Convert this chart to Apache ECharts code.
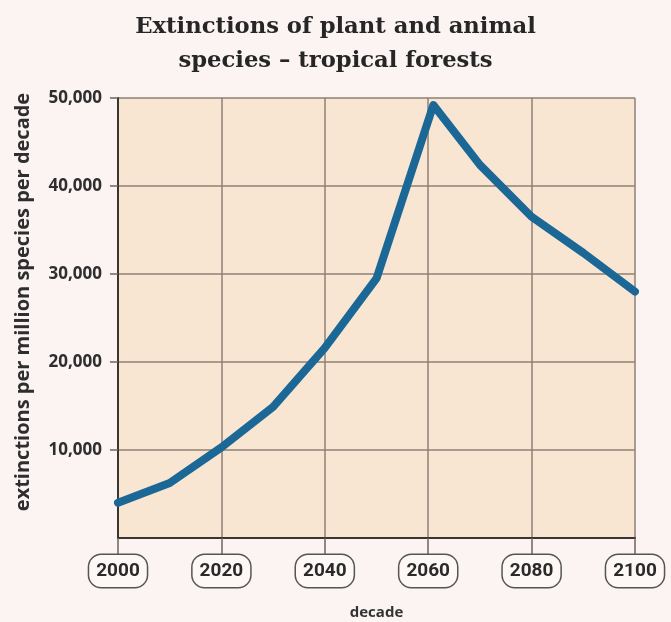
<!DOCTYPE html>
<html>
<head>
<meta charset="utf-8">
<script src="https://cdn.jsdelivr.net/npm/echarts@6/dist/echarts.min.js"></script>
<style>
  html, body { margin: 0; padding: 0; background: #fcf3f3; overflow: hidden; }
  #chart { width: 671px; height: 622px; }
</style>
</head>
<body>
<div id="chart"></div>
<script>
// Extinction rate per decade, tropical forests
const years = [2000, 2010, 2020, 2030, 2040, 2050, 2061, 2070, 2080, 2090, 2100];
const extinctions = [4000, 6250, 10300, 14900, 21600, 29500, 49200, 42400, 36500, 32400, 28000];
const yTicks = [0, 10000, 20000, 30000, 40000, 50000];
const xTicks = [2000, 2020, 2040, 2060, 2080, 2100];

const titleText = 'Extinctions of plant and animal\nspecies \u2013 tropical forests';
const yName = 'extinctions per million species per decade';
const xName = 'decade';

const chart = echarts.init(document.getElementById('chart'), null, { renderer: 'canvas' });

chart.setOption({
  backgroundColor: '#fcf3f3',
  animation: false,
  title: {
    text: titleText,
    left: 'center',
    top: 5,
    textStyle: {
      fontFamily: 'DejaVu Serif',
      fontWeight: 'bold',
      fontSize: 22.7,
      lineHeight: 34,
      color: '#262626'
    }
  },
  grid: {
    left: 118, right: 36, top: 98, bottom: 84,
    outerBoundsMode: 'none',
    containLabel: false,
    show: true,
    backgroundColor: '#f9e6d2',
    borderWidth: 0
  },
  xAxis: {
    type: 'value',
    min: xTicks[0],
    max: xTicks[xTicks.length - 1],
    interval: 20,
    name: xName,
    nameLocation: 'middle',
    nameGap: 67,
    nameTextStyle: { fontFamily: 'Open Sans', fontWeight: 'bold', fontSize: 15, color: '#333' },
    axisLine: { lineStyle: { color: '#3a3530', width: 2 } },
    axisTick: { show: true, length: 16, lineStyle: { color: '#6f655c', width: 1.5 } },
    splitLine: { show: true, lineStyle: { color: '#8c8076', width: 1.5 } },
    axisLabel: {
      margin: 17,
      formatter: v => String(v),
      fontFamily: 'Roboto',
      fontWeight: 'bold',
      fontSize: 19,
      color: '#2a2a2a',
      borderColor: '#555',
      borderWidth: 1.5,
      borderRadius: 12,
      padding: [7, 7, 6, 7],
      backgroundColor: '#fdf7f6'
    }
  },
  yAxis: {
    type: 'value',
    min: yTicks[0],
    max: yTicks[yTicks.length - 1],
    interval: 10000,
    axisLine: { show: true, lineStyle: { color: '#3a3530', width: 2 } },
    axisTick: {
      show: true, length: 8,
      customValues: yTicks.slice(1),
      lineStyle: { color: '#6f655c', width: 1.5 }
    },
    splitLine: { show: true, lineStyle: { color: '#8c8076', width: 1.5 } },
    axisLabel: {
      margin: 16,
      formatter: v => (v === 0 ? '' : v.toLocaleString('en-US')),
      fontFamily: 'Open Sans',
      fontWeight: 'bold',
      fontSize: 17,
      color: '#2e2e2e'
    }
  },
  graphic: [{
    type: 'text',
    rotation: Math.PI / 2,
    x: 23, y: 302,
    style: {
      text: yName,
      fontFamily: 'Open Sans',
      fontWeight: 'bold',
      fontSize: 20,
      fill: '#2e2e2e',
      align: 'center',
      verticalAlign: 'middle'
    }
  }],
  series: [{
    type: 'line',
    data: years.map((y, i) => [y, extinctions[i]]),
    symbol: 'none',
    smooth: false,
    lineStyle: { color: '#1b6796', width: 8, cap: 'round', join: 'round' }
  }]
});
</script>
</body>
</html>
